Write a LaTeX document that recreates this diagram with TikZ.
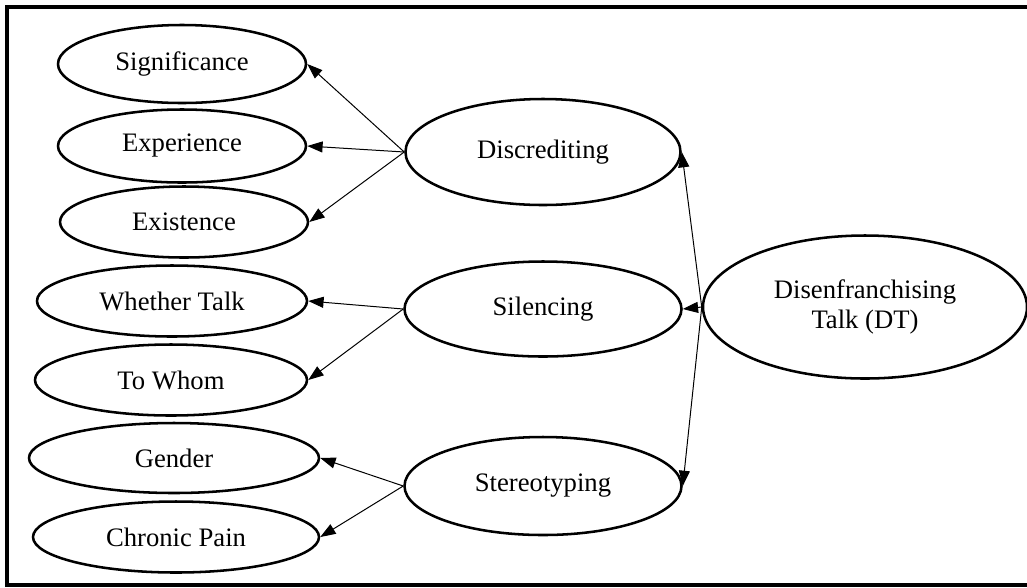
\documentclass[tikz,border=0pt]{standalone}
\usepackage{fontspec}
\setmainfont{Liberation Serif}
\usetikzlibrary{shapes.geometric,arrows.meta}

\begin{document}
\begin{tikzpicture}[
  x=0.75pt, y=-0.75pt,
  concept/.style={ellipse, draw, line width=1.9pt, inner sep=0pt,
    font=\fontsize{20}{23}\selectfont, align=center},
  link/.style={line width=0.75pt,
    -{Triangle[length=11.5pt,width=8.25pt]}}
]
  % page and outer frame
  \useasboundingbox (0,0) rectangle (1027,587);
  \clip (0,0) rectangle (1027,587);
  \draw[line width=3pt] (7,7) rectangle (1040,585);

  % sub-categories
  \node[concept, minimum width=186pt,   minimum height=58.5pt]  (sig)  at (182,64)  {Significance};
  \node[concept, minimum width=186pt,   minimum height=54.75pt] (exp)  at (182,146) {Experience};
  \node[concept, minimum width=186pt,   minimum height=53.25pt] (exi)  at (184,222) {Existence};
  \node[concept, minimum width=202.5pt, minimum height=53.25pt] (wt)   at (172,301) {Whether Talk};
  \node[concept, minimum width=204pt,   minimum height=53.25pt] (tw)   at (171,380) {To Whom};
  \node[concept, minimum width=217.5pt, minimum height=52.5pt]  (gen)  at (174,458) {Gender};
  \node[concept, minimum width=214.5pt, minimum height=53.25pt] (cp)   at (176,537) {Chronic Pain};

  % categories
  \node[concept, minimum width=206.25pt, minimum height=79.5pt]  (disc) at (543,152) {Discrediting};
  \node[concept, minimum width=207.75pt, minimum height=71.25pt] (sil)  at (543,309) {Silencing};
  \node[concept, minimum width=207.75pt, minimum height=73.5pt]  (ster) at (543,486) {Stereotyping};

  % core concept
  \node[concept, minimum width=243pt, minimum height=107.25pt] (dt) at (865,307)
    {Disenfranchising\\Talk (DT)};

  % connectors
  \draw[link] (dt.west) -- (disc.east);
  \draw[link] (dt.west) -- (sil.east);
  \draw[link] (dt.west) -- (ster.east);

  \draw[link] (disc.west) -- (sig.east);
  \draw[link] (disc.west) -- (exp.east);
  \draw[link] (disc.west) -- (exi.east);

  \draw[link] (sil.west) -- (wt.east);
  \draw[link] (sil.west) -- (tw.east);

  \draw[link] (ster.west) -- (gen.east);
  \draw[link] (ster.west) -- (cp.east);
\end{tikzpicture}
\end{document}
